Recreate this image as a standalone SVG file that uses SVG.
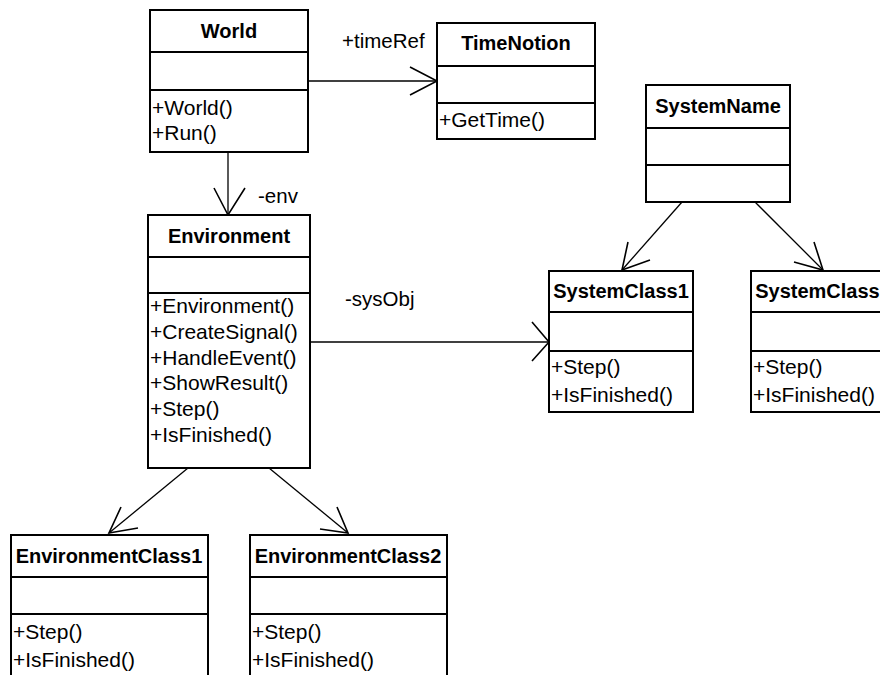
<svg xmlns="http://www.w3.org/2000/svg" width="880" height="675" viewBox="0 0 880 675">
  <style>
    .box { fill: #ffffff; stroke: #000000; stroke-width: 2; }
    .div { stroke: #000000; stroke-width: 2; }
    .title { font-family: "Liberation Sans", Arial, sans-serif; font-size: 20px; font-weight: bold; text-anchor: middle; fill: #000000; }
    .op { font-family: "Liberation Sans", Arial, sans-serif; font-size: 21px; fill: #000000; }
    .lbl { font-family: "Liberation Sans", Arial, sans-serif; font-size: 20.5px; fill: #000000; }
    .edge { fill: none; stroke: #000000; stroke-width: 1.3; }
    .head { fill: none; stroke: #000000; stroke-width: 1.6; }
  </style>
  <rect width="880" height="675" fill="#ffffff"/>

  <!-- associations -->
  <g id="connectors">
    <line class="edge" x1="308" y1="81" x2="437" y2="81"/>
    <polyline class="head" points="410,67 437,81 410,95"/>
    <text class="lbl" x="342" y="48">+timeRef</text>

    <line class="edge" x1="228" y1="152" x2="228" y2="215"/>
    <polyline class="head" points="214,188 228,215 245,188"/>
    <text class="lbl" x="258" y="203">-env</text>

    <line class="edge" x1="310" y1="342" x2="549" y2="342"/>
    <polyline class="head" points="532,322 549,342 532,361"/>
    <text class="lbl" x="345" y="306">-sysObj</text>

    <line class="edge" x1="682" y1="202" x2="622" y2="270"/>
    <polyline class="head" points="628,242 622,270 650,260"/>
    <line class="edge" x1="755" y1="202" x2="823" y2="270"/>
    <polyline class="head" points="814,242 823,270 794,262"/>

    <line class="edge" x1="188" y1="468" x2="109" y2="533"/>
    <polyline class="head" points="121,507 109,533 138,528"/>
    <line class="edge" x1="269" y1="468" x2="348" y2="533"/>
    <polyline class="head" points="337,507 348,533 320,529"/>
  </g>

  <g id="World">
    <rect class="box" x="150" y="10" width="158" height="142"/>
    <line class="div" x1="150" y1="52" x2="308" y2="52"/>
    <line class="div" x1="150" y1="90" x2="308" y2="90"/>
    <text class="title" x="229" y="38">World</text>
    <text class="op" x="152" y="115">+World()</text>
    <text class="op" x="152" y="140">+Run()</text>
  </g>

  <g id="TimeNotion">
    <rect class="box" x="437" y="23" width="158" height="116"/>
    <line class="div" x1="437" y1="66" x2="595" y2="66"/>
    <line class="div" x1="437" y1="103" x2="595" y2="103"/>
    <text class="title" x="516" y="50">TimeNotion</text>
    <text class="op" x="439" y="127">+GetTime()</text>
  </g>

  <g id="SystemName">
    <rect class="box" x="646" y="85" width="144" height="117"/>
    <line class="div" x1="646" y1="128" x2="790" y2="128"/>
    <line class="div" x1="646" y1="165" x2="790" y2="165"/>
    <text class="title" x="718" y="113">SystemName</text>
  </g>

  <g id="Environment">
    <rect class="box" x="148" y="215" width="162" height="253"/>
    <line class="div" x1="148" y1="257" x2="310" y2="257"/>
    <line class="div" x1="148" y1="293" x2="310" y2="293"/>
    <text class="title" x="229" y="243">Environment</text>
    <text class="op" x="150" y="313">+Environment()</text>
    <text class="op" x="150" y="339">+CreateSignal()</text>
    <text class="op" x="150" y="365">+HandleEvent()</text>
    <text class="op" x="150" y="390">+ShowResult()</text>
    <text class="op" x="150" y="416">+Step()</text>
    <text class="op" x="150" y="442">+IsFinished()</text>
  </g>

  <g id="SystemClass1">
    <rect class="box" x="549" y="271" width="144" height="141"/>
    <line class="div" x1="549" y1="312" x2="693" y2="312"/>
    <line class="div" x1="549" y1="351" x2="693" y2="351"/>
    <text class="title" x="621" y="298">SystemClass1</text>
    <text class="op" x="551" y="374">+Step()</text>
    <text class="op" x="551" y="402">+IsFinished()</text>
  </g>

  <!-- runs past the right edge of the canvas -->
  <g id="SystemClass2">
    <rect class="box" x="751" y="271" width="144" height="141"/>
    <line class="div" x1="751" y1="312" x2="895" y2="312"/>
    <line class="div" x1="751" y1="351" x2="895" y2="351"/>
    <text class="title" x="823" y="298">SystemClass2</text>
    <text class="op" x="753" y="374">+Step()</text>
    <text class="op" x="753" y="402">+IsFinished()</text>
  </g>

  <g id="EnvironmentClass1">
    <rect class="box" x="11" y="535" width="197" height="160"/>
    <line class="div" x1="11" y1="577" x2="208" y2="577"/>
    <line class="div" x1="11" y1="614" x2="208" y2="614"/>
    <text class="title" x="109" y="563">EnvironmentClass1</text>
    <text class="op" x="13" y="639">+Step()</text>
    <text class="op" x="13" y="667">+IsFinished()</text>
  </g>

  <g id="EnvironmentClass2">
    <rect class="box" x="250" y="535" width="197" height="160"/>
    <line class="div" x1="250" y1="577" x2="447" y2="577"/>
    <line class="div" x1="250" y1="614" x2="447" y2="614"/>
    <text class="title" x="348" y="563">EnvironmentClass2</text>
    <text class="op" x="252" y="639">+Step()</text>
    <text class="op" x="252" y="667">+IsFinished()</text>
  </g>
</svg>
